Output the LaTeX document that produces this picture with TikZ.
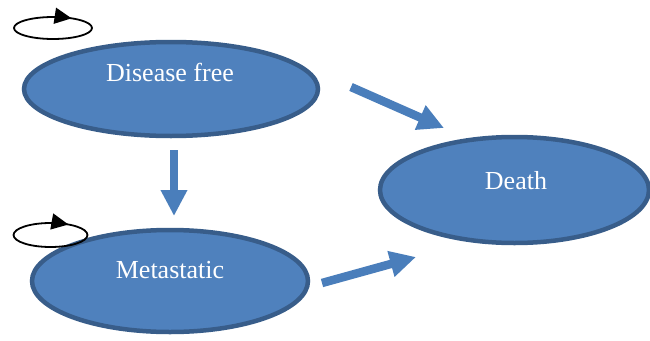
\documentclass[tikz,border=0pt]{standalone}
\usepackage{fontspec}
\setmainfont{Liberation Serif}
\usepackage{xcolor}
\definecolor{statefill}{HTML}{4F81BD}
\definecolor{stateline}{HTML}{385D8A}
\definecolor{flow}{HTML}{4A7EBB}
\usepackage{tikz}
\usetikzlibrary{arrows.meta, shapes.geometric, decorations.markings}

\begin{document}
\begin{tikzpicture}[x=1pt, y=-1pt,
  state/.style={ellipse, draw=stateline, fill=statefill, line width=4.5pt, inner sep=0pt},
  statetext/.style={text=white, font=\fontsize{26}{30}\selectfont},
  flowarrow/.style={draw=flow, line width=8.5pt, -{Triangle[length=26pt, width=25pt]}},
  selfloop/.style={draw=black, line width=1.8pt,
    postaction={decorate, decoration={markings,
      mark=at position 0.86 with {\arrow{Triangle[length=17pt, width=16pt]}}}}}]
  \useasboundingbox (0,0) rectangle (650,340);
  % states
  \node[state, minimum width=294pt, minimum height=94pt] (free) at (171,89) {};
  \node[state, minimum width=276pt, minimum height=102pt] (meta) at (170,281) {};
  \node[state, minimum width=269pt, minimum height=106pt] (death) at (514.5,190) {};
  \node[statetext] (freetext) at (170,72) {Disease free};
  \node[statetext] (metatext) at (170,270) {Metastatic};
  \node[statetext] (deathtext) at (516,181) {Death};
  % self loops
  \coordinate (freeloop) at (53,28);
  \coordinate (metaloop) at (50.5,235);
  \draw[selfloop] (freeloop) ellipse (39 and 11);
  \draw[selfloop] (metaloop) ellipse (37 and 12);
  % transitions
  \coordinate (a1) at (351,87);
  \coordinate (b1) at (444,128);
  \coordinate (a2) at (174,150);
  \coordinate (b2) at (174,216);
  \coordinate (a3) at (322,283);
  \coordinate (b3) at (416,257);
  \draw[flowarrow] (a1) -- (b1);
  \draw[flowarrow] (a2) -- (b2);
  \draw[flowarrow] (a3) -- (b3);
\end{tikzpicture}
\end{document}
